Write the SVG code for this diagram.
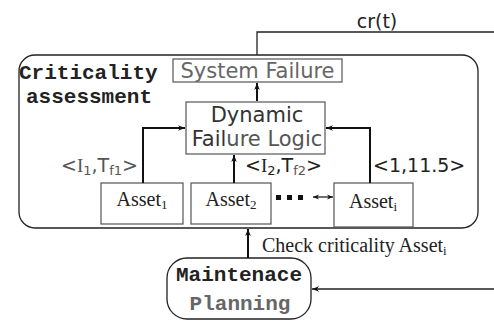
<svg xmlns="http://www.w3.org/2000/svg" width="494" height="321" viewBox="0 0 494 321">
  <defs>
    <marker id="ah" viewBox="0 0 10 10" refX="10" refY="5" markerWidth="7" markerHeight="7" markerUnits="userSpaceOnUse" orient="auto">
      <path d="M0,1 L10,5 L0,9 L3,5 Z" fill="#111"/>
    </marker>
    <marker id="ahs" viewBox="0 0 10 10" refX="10" refY="5" markerWidth="6" markerHeight="6" markerUnits="userSpaceOnUse" orient="auto-start-reverse">
      <path d="M0,1 L10,5 L0,9 L3,5 Z" fill="#111"/>
    </marker>
  </defs>
  <style>
    .box { fill: #fff; stroke: #555; stroke-width: 1.2; }
    .frame { fill: none; stroke: #222; stroke-width: 1.3; }
    .wire { fill: none; stroke: #111; stroke-width: 2; }
    .thin { fill: none; stroke: #222; stroke-width: 1.3; }
    .sans { font-family: "DejaVu Sans", Verdana, sans-serif; font-size: 19px; }
    .big { font-size: 21px; }
    .mono { font-family: "Liberation Mono", "Courier New", monospace; font-weight: bold; font-size: 21px; }
    .serif { font-family: "Liberation Serif", "Times New Roman", serif; font-size: 20px; fill: #222; }
    .sub { font-size: 13px; }
  </style>

  <!-- criticality assessment container -->
  <g id="criticality-assessment">
    <rect class="frame" x="19" y="55" width="459" height="173" rx="16" ry="16"/>
    <text class="mono" x="19" y="79" fill="#222">Criticality</text>
    <text class="mono" x="26" y="103" fill="#222">assessment</text>
  </g>

  <g id="system-failure">
    <rect class="box" x="173" y="59" width="169" height="23"/>
    <text class="sans big" x="257.5" y="78" text-anchor="middle" fill="#666">System Failure</text>
  </g>

  <g id="dynamic-failure-logic">
    <rect class="box" x="186" y="102" width="139" height="52"/>
    <text class="sans big" x="257" y="122" text-anchor="middle" fill="#333">Dynamic</text>
    <text class="sans big" x="257" y="146" text-anchor="middle" fill="#555"><tspan fill="#333">Fail</tspan>ure Logic</text>
  </g>

  <g id="asset-1">
    <rect class="box" x="101" y="183" width="82" height="41"/>
    <text class="serif" x="142" y="206" text-anchor="middle">Asset<tspan class="sub" dy="3">1</tspan></text>
  </g>

  <g id="asset-2">
    <rect class="box" x="191" y="183" width="80" height="41"/>
    <text class="serif" x="231" y="206" text-anchor="middle">Asset<tspan class="sub" dy="3">2</tspan></text>
  </g>

  <g id="asset-i">
    <rect class="box" x="334" y="183" width="79" height="44"/>
    <text class="serif" x="373" y="208" text-anchor="middle">Asset<tspan class="sub" dy="3">i</tspan></text>
  </g>

  <g id="maintenance-planning">
    <rect class="frame" x="167" y="258" width="144" height="61" rx="20" ry="20"/>
    <text class="mono" x="239" y="281" text-anchor="middle" fill="#222">Maintenace</text>
    <text class="mono" x="240" y="310" text-anchor="middle" fill="#666">Planning</text>
  </g>

  <!-- connectors -->
  <g id="connectors">
    <path class="thin" d="M257,55 V32 H494"/>
    <path class="wire" d="M257,101 V83" marker-end="url(#ah)"/>
    <path class="wire" d="M143,183 V128 H185" marker-end="url(#ah)"/>
    <path class="wire" d="M370,183 V128 H326" marker-end="url(#ah)"/>
    <path class="wire" d="M234,183 V155" marker-end="url(#ah)"/>
    <path class="thin" d="M313,197 H333" marker-start="url(#ahs)" marker-end="url(#ahs)"/>
    <path class="wire" d="M248,258 V229" marker-end="url(#ah)"/>
    <path class="thin" d="M494,289 H312" marker-end="url(#ah)"/>
  </g>

  <!-- ellipsis between assets -->
  <g id="ellipsis" fill="#111">
    <rect x="276" y="195" width="5" height="5"/>
    <rect x="287" y="195" width="5" height="5"/>
    <rect x="298" y="195" width="5" height="5"/>
  </g>

  <!-- connector labels -->
  <g id="labels">
    <text class="sans" x="377" y="28" text-anchor="middle" fill="#222" style="font-size:19px">cr(t)</text>
    <text class="sans" x="138" y="172" text-anchor="end" fill="#555">&lt;<tspan font-family="Liberation Serif, serif">I</tspan><tspan class="sub" dy="3">1</tspan><tspan dy="-3">,T</tspan><tspan class="sub" dy="3">f1</tspan><tspan dy="-3">&gt;</tspan></text>
    <text class="sans" x="245" y="172" fill="#222">&lt;<tspan font-family="Liberation Serif, serif">I</tspan><tspan class="sub" dy="3">2</tspan><tspan dy="-3">,T</tspan><tspan class="sub" dy="3" fill="#555">f2</tspan><tspan dy="-3">&gt;</tspan></text>
    <text class="sans" x="373" y="172" fill="#222">&lt;1,11.5&gt;</text>
    <text class="serif" x="262" y="252">Check criticality Asset<tspan class="sub" dy="3">i</tspan></text>
  </g>
</svg>
